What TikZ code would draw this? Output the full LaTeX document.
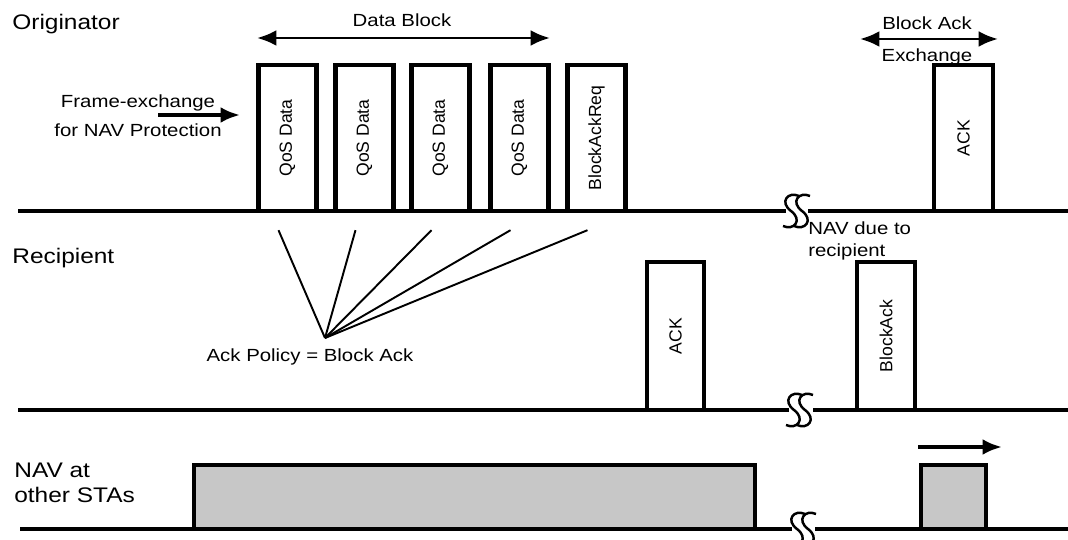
\documentclass[tikz,border=0pt]{standalone}
\usepackage{fontspec}
\setmainfont{Liberation Sans}[FakeStretch=1.16]
\newfontfamily\boxfont{Liberation Sans}
\usepackage{tikz}
\usetikzlibrary{
  arrows.meta,%
  calc,%
  positioning
}
\tikzset{>={Latex[length=11pt,width=9pt]}}
\tikzset{
  frame/.style={draw, line width=2.5pt, fill=white, rotate=90, inner sep=0pt,
    minimum width=2.92cm, minimum height=1.16cm,
    font=\boxfont\fontsize{10}{12}\selectfont},
  navbox/.style={draw, line width=2.5pt, fill=black!22, inner sep=0pt,
    minimum height=1.28cm},
  station/.style={font=\fontsize{12}{14.2}\selectfont, inner sep=0pt},
  lbl/.style={font=\fontsize{10}{12}\selectfont, inner sep=0pt},
  timeline/.style={line width=2pt},
  fan/.style={line width=1.1pt},
  % the break mark on a time line
  brk/.pic={
    \foreach \d in {0,11}
      \draw[line width=1.4pt, shift={(\d,0)}] (8,-15) .. controls (-3,-20) and (-12,-9) .. (0,0)
        .. controls (12,9) and (3,20) .. (-8,15);
  }
}

\begin{document}
\begin{tikzpicture}[x=0.02cm, y=-0.02cm]
  \useasboundingbox (0,0) rectangle (1068,540);

  % originator
  \node[station, anchor=base west] (orig) at (12,30) {Originator};
  \draw[timeline] (18,211) -- (786,211);
  \draw[timeline] (808,211) -- (1068,211);
  \pic at (791,211) {brk};

  \node[lbl, anchor=base] (dblock) at (402,27) {Data Block};
  \coordinate (dbL) at (257,38);
  \coordinate (dbR) at (550,38);
  \draw[<->, line width=1.6pt] (dbL) -- (dbR);

  \node[lbl, align=center, font=\fontsize{10}{16.4}\selectfont] (fx) at (138,116)
    {Frame-exchange\\for NAV Protection};
  \coordinate (fxL) at (158,115);
  \coordinate (fxR) at (240,115);
  \draw[->, line width=2.2pt] (fxL) -- (fxR);

  \node[frame] (qos1) at (287.5,138) {QoS Data};
  \node[frame] (qos2) at (364.5,138) {QoS Data};
  \node[frame] (qos3) at (440.5,138) {QoS Data};
  \node[frame] (qos4) at (519.5,138) {QoS Data};
  \node[frame] (req) at (596.5,138) {BlockAckReq};

  \node[lbl, align=center, font=\fontsize{10}{18.1}\selectfont] (bax) at (927,41)
    {Block Ack\\Exchange};
  \coordinate (baL) at (860,39);
  \coordinate (baR) at (998,39);
  \draw[<->, line width=1.6pt] (baL) -- (baR);
  \node[frame, minimum height=1.18cm] (ackO) at (963.5,138) {ACK};

  \node[lbl, align=left, anchor=north west, font=\fontsize{10}{12.5}\selectfont] (navr)
    at (808,221) {NAV due to\\recipient};

  % recipient
  \node[station, anchor=base west] (recp) at (12,264) {Recipient};
  \draw[timeline] (18,410) -- (789,410);
  \draw[timeline] (813,410) -- (1068,410);
  \pic at (794,410) {brk};

  \node[lbl, anchor=base] (policy) at (310,361) {Ack Policy = Block Ack};
  \coordinate (pol) at (325,338);
  \foreach \b in {qos1,qos2,qos3,qos4,req}
    \draw[fan] ($(\b.west)+(-9,17)$) -- (pol);

  \node[frame, minimum width=2.96cm, minimum height=1.14cm] (ackR) at (675.5,336) {ACK};
  \node[frame, minimum width=2.96cm] (back) at (886,336) {BlockAck};

  % NAV at other stations
  \node[station, align=left, anchor=north west] (nav) at (14,462.5) {NAV at\\other STAs};
  \node[navbox, minimum width=11.22cm] (navA) at (474.5,497) {};
  \node[navbox, minimum width=1.3cm] (navB) at (953.5,497) {};
  \draw[timeline] (20,529) -- (792,529);
  \draw[timeline] (815,529) -- (1068,529);
  \pic at (797,529) {brk};
  \coordinate (nvL) at (918,447);
  \coordinate (nvR) at (1002,447);
  \draw[->, line width=2.2pt] (nvL) -- (nvR);
\end{tikzpicture}
\end{document}
